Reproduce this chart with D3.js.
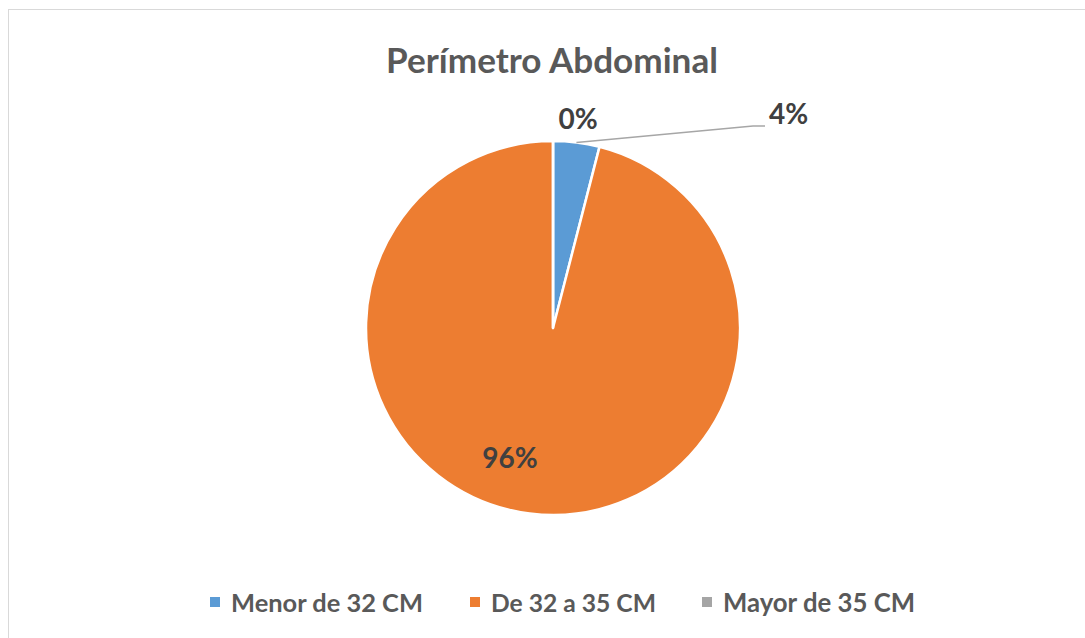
<!DOCTYPE html>
<html>
<head>
<meta charset="utf-8">
<script src="https://cdn.jsdelivr.net/npm/d3@7/dist/d3.min.js"></script>
<style>
html,body{margin:0;padding:0;background:#fff;}
svg{display:block;}
text{font-family:Lato,"Open Sans",sans-serif;font-weight:bold;}
</style>
</head>
<body>
<svg id="chart" width="1085" height="638"></svg>
<script>
const title = "Perímetro Abdominal";
const categories = ["Menor de 32 CM", "De 32 a 35 CM", "Mayor de 35 CM"];
const values = [4, 96, 0];
const labels = ["4%", "96%", "0%"];
const colors = ["#5B9BD5", "#ED7D31", "#A5A5A5"];

const svg = d3.select("#chart");
const cx = 553, cy = 328, R = 187;

// chart border
svg.append("rect").attr("x", 8.5).attr("y", 9.5).attr("width", 1100).attr("height", 700)
  .attr("fill", "#fff").attr("stroke", "#d9d9d9").attr("stroke-width", 1);

function fitText(sel, targetW) {
  const node = sel.node();
  const fs = parseFloat(sel.attr("font-size"));
  const w = node.getComputedTextLength();
  sel.attr("font-size", (fs * targetW / w).toFixed(2));
}

// title
const t = svg.append("text").attr("x", 552).attr("y", 73).attr("text-anchor", "middle")
  .attr("font-size", 30).attr("fill", "#595959").text(title);
fitText(t, 332);

const pie = d3.pie().sort(null).value(d => d)(values);
const arc = d3.arc().innerRadius(0).outerRadius(R);
const g = svg.append("g").attr("transform", `translate(${cx},${cy})`);
g.selectAll("path").data(pie).join("path")
  .attr("d", arc).attr("fill", (d, i) => colors[i])
  .attr("stroke", "#fff").attr("stroke-width", 2.5).attr("stroke-linejoin", "round");

// leader line for first slice
const p0 = pie[0];
const mid = (p0.startAngle + p0.endAngle) / 2;
const sx = Math.sin(mid) * R, sy = -Math.cos(mid) * R;
g.append("polyline")
  .attr("points", [[sx, sy], [200, -202], [212, -202]].map(p => p.join(",")).join(" "))
  .attr("fill", "none").attr("stroke", "#A6A6A6").attr("stroke-width", 1.5);

// data labels (offsets from pie centre)
const labelPos = [[216, -204, "start"], [-43, 140, "middle"], [25, -199, "middle"]];
labels.forEach((l, i) => {
  g.append("text").attr("x", labelPos[i][0]).attr("y", labelPos[i][1])
    .attr("text-anchor", labelPos[i][2]).attr("font-size", 28).attr("fill", "#404040").text(l);
});

// legend
const legX = [210, 470, 702];
const legW = [192, 165, 192];
const leg = svg.append("g");
categories.forEach((c, i) => {
  leg.append("rect").attr("x", legX[i]).attr("y", 597).attr("width", 10).attr("height", 10).attr("fill", colors[i]);
  const lt = leg.append("text").attr("x", legX[i] + 21).attr("y", 612)
    .attr("font-size", 22).attr("fill", "#595959").text(c);
  fitText(lt, legW[i]);
});
</script>
</body>
</html>
